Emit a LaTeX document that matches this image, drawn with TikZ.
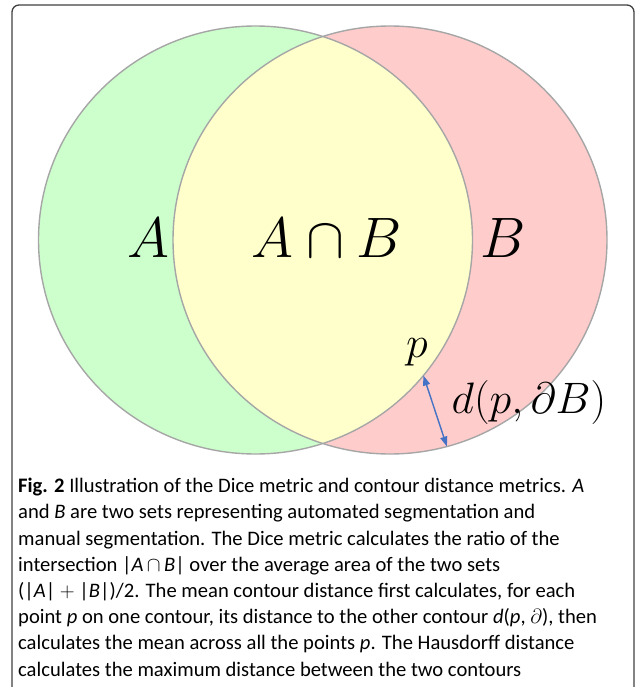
\RequirePackage{fix-cm}
\documentclass[tikz,border=0pt]{standalone}
\usepackage{fontspec}
\setmainfont{Carlito}
\definecolor{setgreen}{HTML}{CCFFCC}
\definecolor{setpink}{HTML}{FFCCCC}
\definecolor{setyellow}{HTML}{FFFFCC}
\definecolor{rimgray}{HTML}{A6A6A6}
\definecolor{myblue}{HTML}{4472C4}
\usetikzlibrary{arrows.meta, positioning, calc}
\tikzset{
	setrim/.style={draw=rimgray, line width=1.4pt}
}
\tikzset{
	biglabel/.style={font=\fontsize{57}{57}\selectfont},
	ptlabel/.style={font=\fontsize{44}{44}\selectfont},
	captext/.style={font=\fontsize{20.6}{26.2}\selectfont, align=left, inner sep=0pt, anchor=north west},
	distarrow/.style={myblue, line width=1.4pt, {Triangle[length=10pt,width=7pt]}-{Triangle[length=10pt,width=7pt]}}
}
\newcommand{\ital}[1]{\textit{#1}}

\begin{document}
\begin{tikzpicture}[x=1pt, y=-1pt]
      \useasboundingbox (0,0) rectangle (636,687);
      \clip (0,0) rectangle (636,687);
      % outer frame, open at the bottom
      \draw[line width=1.3pt, black!75, rounded corners=7pt] (12,5) rectangle (634,720);
      \coordinate (cA) at (255.5,240);
      \coordinate (cB) at (390,240);
      % the two sets and their overlap
      \fill[setgreen] (cA) ellipse [x radius=217, y radius=214];
      \fill[setpink] (cB) ellipse [x radius=217, y radius=214];
      \begin{scope}
        \clip (cA) ellipse [x radius=217, y radius=214];
        \fill[setyellow] (cB) ellipse [x radius=217, y radius=214];
      \end{scope}
      \draw[setrim] (cA) ellipse [x radius=217, y radius=214];
      \draw[setrim] (cB) ellipse [x radius=217, y radius=214];
      \foreach \x/\n/\t in {148/labA/A, 327/labAB/A\cap B, 503/labB/B}
        \node[biglabel] (\n) at (\x,238) {$\t$};
      % distance from p to the contour of B
      \coordinate (pIn) at ($(cA)+(39.3:217 and 214)$);
      \coordinate (pOut) at ($(cB)+(74.8:217 and 214)$);
      \node[ptlabel] (labp) at (417,352) {$p$};
      \node[ptlabel] (labd) at (529,402) {$d(p,\partial B)$};
      \draw[distarrow] (pIn) -- (pOut);
      \node[captext] (cap) at (18,478) {\textbf{Fig. 2} Illustration of the Dice metric and contour distance metrics. \ital{A}\\
        and \ital{B} are two sets representing automated segmentation and\\
        manual segmentation. The Dice metric calculates the ratio of the\\
        intersection |\ital{A}\,$\cap$\,\ital{B}| over the average area of the two sets\\
        (|\ital{A}| $+$ |\ital{B}|)/2. The mean contour distance first calculates, for each\\
        point \ital{p} on one contour, its distance to the other contour \ital{d}(\ital{p}, $\partial$), then\\
        calculates the mean across all the points \ital{p}. The Hausdorff distance\\
        calculates the maximum distance between the two contours};
    \end{tikzpicture}
\end{document}
